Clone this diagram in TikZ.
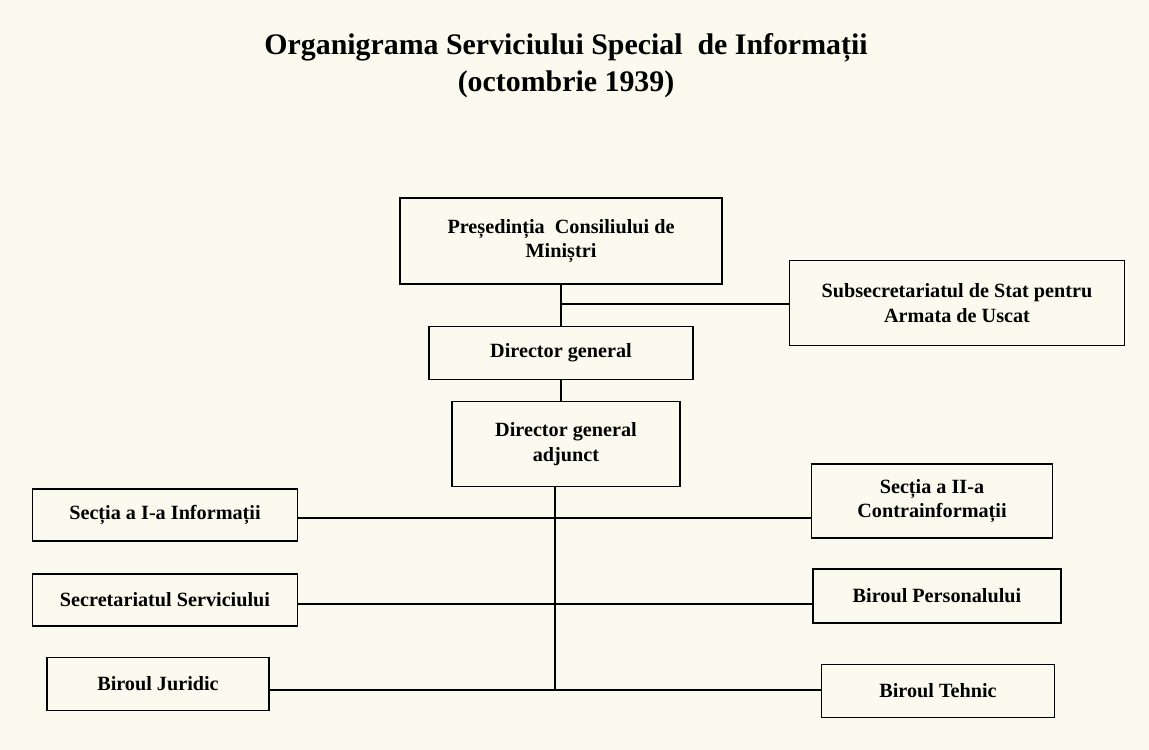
\documentclass[tikz,border=0pt]{standalone}
\usepackage{fontspec}
\setmainfont{Liberation Serif}
\usetikzlibrary{positioning}
\definecolor{paper}{HTML}{FBFAEE}
\tikzset{
  box/.style={draw, thick, fill=paper, align=center, font=\bfseries\fontsize{11.5}{14}\selectfont, inner sep=2pt},
  link/.style={thick}
}
\begin{document}
\begin{tikzpicture}[x=0.02cm,y=-0.02cm]
\fill[paper] (0,0) rectangle (1149,750);
\useasboundingbox (0,0) rectangle (1149,750);
% title
\node[font=\bfseries\fontsize{17}{21}\selectfont, align=center] (title) at (566,66) {Organigrama Serviciului Special\ \ de Informații\\(octombrie 1939)};
% boxes
\node[box, minimum width=6.44cm, minimum height=1.72cm] (pres) at (561,241) {Președinția\ \ Consiliului de\\Miniștri};
\node[box, minimum width=6.7cm, minimum height=1.7cm] (sub) at (957,303) {Subsecretariatul de Stat pentru\\Armata de Uscat};
\node[box, minimum width=5.28cm, minimum height=1.06cm] (dg) at (561,353) {Director general};
\node[box, minimum width=4.56cm, minimum height=1.7cm] (dga) at (566,444) {Director general\\adjunct};
\node[box, minimum width=5.3cm, minimum height=1.04cm] (sec1) at (165,515) {Secția a I-a Informații};
\node[box, minimum width=4.82cm, minimum height=1.48cm] (sec2) at (932,501) {Secția a II-a\\Contrainformații};
\node[box, minimum width=5.3cm, minimum height=1.04cm] (secr) at (165,600) {Secretariatul Serviciului};
\node[box, minimum width=4.96cm, minimum height=1.08cm] (pers) at (937,596) {Biroul Personalului};
\node[box, minimum width=4.44cm, minimum height=1.06cm] (jur) at (158,684) {Biroul Juridic};
\node[box, minimum width=4.66cm, minimum height=1.06cm] (teh) at (938,691) {Biroul Tehnic};
% junctions
\coordinate (j0) at (561,304);
\coordinate (j1) at (555,518);
\coordinate (j2) at (555,604);
\coordinate (j3) at (555,690);
% connectors
\draw[link] (pres.south) -- (dg.north);
\draw[link] (j0) -- (sub.west |- j0);
\draw[link] (dg.south) -- (dg.south |- dga.north);
\draw[link] (dga.south -| j1) -- (j3);
\draw[link] (sec1.east |- j1) -- (sec2.west |- j1);
\draw[link] (secr.east |- j2) -- (pers.west |- j2);
\draw[link] (jur.east |- j3) -- (teh.west |- j3);
\end{tikzpicture}
\end{document}
